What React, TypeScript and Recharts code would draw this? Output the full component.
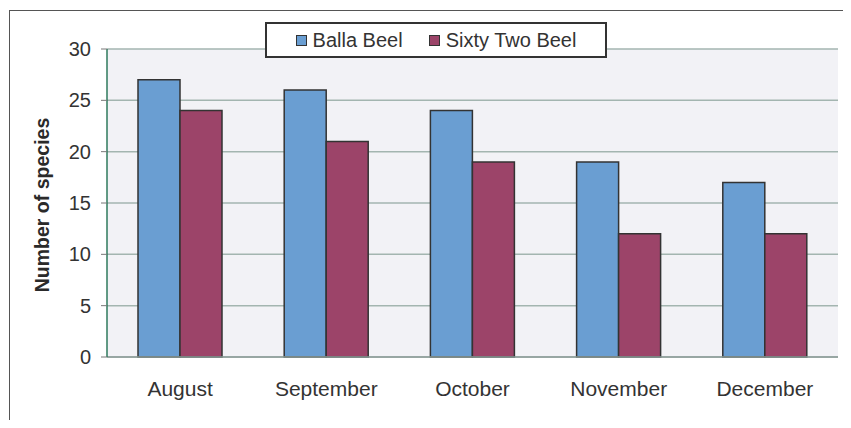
import React from "react";
import { BarChart, Bar, XAxis, YAxis, CartesianGrid } from "recharts";

// Species counts per month at the two beels
const months = ["August", "September", "October", "November", "December"];
const ballaBeel = [27, 26, 24, 19, 17];
const sixtyTwoBeel = [24, 21, 19, 12, 12];
const yTicks = [0, 5, 10, 15, 20, 25, 30];

const BLUE = "#6a9ed2";
const RED = "#9c4469";
const TEXT = "#333";
const GRID = "#a3b5b0";
const FONT = "Arial, 'Liberation Sans', sans-serif";

const data = months.map((month, i) => ({
  month,
  balla: ballaBeel[i],
  sixtyTwo: sixtyTwoBeel[i],
}));

const series = [
  { key: "balla", name: "Balla Beel", color: BLUE },
  { key: "sixtyTwo", name: "Sixty Two Beel", color: RED },
];

// boxed legend sitting over the top edge of the plot
const LegendBox = () => (
  <div
    style={{
      position: "absolute",
      left: 265,
      top: 22,
      boxSizing: "border-box",
      width: 342,
      height: 36,
      border: "2px solid #333",
      background: "#fff",
      display: "flex",
      alignItems: "center",
      justifyContent: "center",
      gap: 26,
      fontFamily: FONT,
      fontSize: 20,
      color: TEXT,
    }}
  >
    {series.map((s) => (
      <span key={s.key} style={{ display: "flex", alignItems: "center" }}>
        <span
          style={{
            display: "inline-block",
            width: 9,
            height: 9,
            background: s.color,
            border: "1.5px solid #333",
            marginRight: 6,
          }}
        />
        {s.name}
      </span>
    ))}
  </div>
);

const YLabel = () => (
  <text
    x={42}
    y={205}
    transform="rotate(-90, 42, 205)"
    textAnchor="middle"
    dominantBaseline="central"
    fontFamily={FONT}
    fontSize={19.5}
    fontWeight="bold"
    fill="#2a2a2a"
  >
    Number of species
  </text>
);

export default function App() {
  return (
    <div style={{ position: "relative", width: 851, height: 428, margin: -8, background: "#fff", overflow: "hidden" }}>
      {/* outer frame */}
      <div
        style={{
          position: "absolute",
          left: 9,
          top: 10,
          width: 850,
          height: 414,
          border: "1.5px solid #555",
        }}
      />
      <BarChart
        width={851}
        height={428}
        data={data}
        margin={{ top: 49, right: 13, bottom: 0, left: 0 }}
        barSize={42}
        barGap={0}
        style={{ position: "absolute", left: 0, top: 0, fontFamily: FONT }}
      >
        <CartesianGrid vertical={false} stroke={GRID} strokeWidth={1.5} fill="#f2f2f6" fillOpacity={1} />
        <XAxis
          dataKey="month"
          height={71}
          axisLine={{ stroke: "#8c9c98", strokeWidth: 1.5 }}
          tickLine={false}
          tickSize={0}
          tickMargin={24}
          tick={{ fontSize: 21, fill: TEXT }}
          interval={0}
        />
        <YAxis
          width={107}
          domain={[0, 30]}
          ticks={yTicks}
          interval={0}
          axisLine={{ stroke: "#2e7a5c", strokeWidth: 1.5 }}
          tickLine={{ stroke: "#777" }}
          tickSize={6}
          tickMargin={10}
          tick={{ fontSize: 20, fill: TEXT }}
          label={<YLabel />}
        />
        <YAxis
          yAxisId="frame"
          orientation="right"
          width={0}
          tick={false}
          tickLine={false}
          axisLine={{ stroke: GRID, strokeWidth: 1.5 }}
        />
        {series.map((s) => (
          <Bar
            key={s.key}
            dataKey={s.key}
            name={s.name}
            fill={s.color}
            stroke="#333"
            strokeWidth={1.5}
            isAnimationActive={false}
          />
        ))}
      </BarChart>
      <LegendBox />
    </div>
  );
}
